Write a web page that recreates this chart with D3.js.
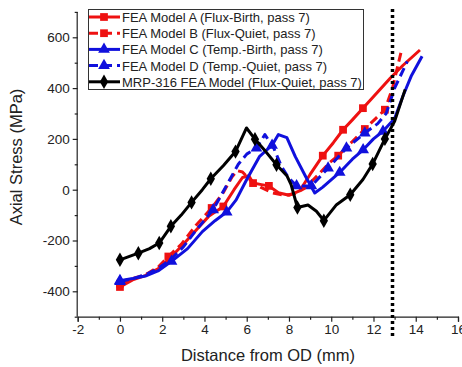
<!DOCTYPE html>
<html lang="en">
<head>
<meta charset="UTF-8">
<title>Axial Stress vs Distance from OD</title>
<script src="https://d3js.org/d3.v7.min.js"></script>
<style>
  body { margin: 0; background: #fff; }
  svg { display: block; }
  text { font-family: "Liberation Sans", Arial, sans-serif; fill: #222; }
</style>
</head>
<body>
<svg id="chart" width="462" height="367"></svg>
<script>
// [x (mm), stress (MPa), marker?]
const modelA = [[0,-383,1],[0.6,-355],[1.2,-338],[1.8,-312],[2.37,-269,1],[3.0,-215],[3.6,-160],[4.2,-105],[4.89,-66,1],[5.4,0],[5.8,48],[6.1,55],[6.3,26,1],[6.7,20],[7.05,15,1],[7.5,-12],[8.0,-22],[8.5,-5],[9.0,60],[9.6,134,1],[10.1,185],[10.56,236,1],[11.0,275],[11.5,321,1],[12.2,385],[12.8,440],[13.4,490],[14.2,550]];
const modelB = [[0,-370,1],[0.6,-350],[1.2,-335],[1.8,-305],[2.29,-263,1],[2.9,-215],[3.6,-140],[4.34,-72,1],[4.9,-10],[5.3,50],[5.55,75],[5.8,70],[6.2,35],[6.7,8],[7.2,-12],[7.8,-22],[8.3,-15],[8.75,6],[9.4,60],[9.9,105],[10.33,134,1],[11.0,190],[11.59,239,1],[12.1,280],[12.54,315,1],[12.9,400],[13.3,540]];
const modelC = [[0,-358,1],[0.6,-350],[1.2,-340],[1.8,-320],[2.44,-282,1],[3.2,-232],[3.9,-165],[4.5,-122],[5.05,-88,1],[5.5,-40],[6.0,40],[6.6,130],[7.2,175,1],[7.5,217],[7.9,205],[8.3,130],[8.8,50],[9.22,-13],[9.6,10],[10.4,68,1],[11.0,120],[11.51,157,1],[12.0,200],[12.45,230,1],[13.0,280],[13.4,370],[13.8,450],[14.3,525]];
const modelD = [[0,-362,1],[0.6,-350],[1.2,-335],[1.8,-310],[2.4,-275],[3.0,-225],[3.6,-160],[4.41,-79,1],[5.0,10],[5.6,100],[6.0,140],[6.46,164,1],[6.86,217],[7.3,160],[7.64,92],[8.0,45],[8.36,15,1],[9.06,15,1],[9.85,85,1],[10.72,164,1],[11.59,223,1],[12.2,260],[12.6,300],[13.0,400],[13.6,505]];
const modelMRP = [[0,-276,1],[0.87,-250,1],[1.4,-232],[1.86,-210,1],[2.41,-144,1],[2.9,-100],[3.39,-50,1],[3.9,0],[4.3,43,1],[4.9,95],[5.47,150,1],[5.99,243],[6.39,199,1],[6.9,150],[7.41,98,1],[7.9,55],[8.1,20],[8.4,-70,1],[8.9,-60],[9.3,-85],[9.65,-122,1],[10.25,-59],[10.9,-20,1],[11.5,40],[11.96,101,1],[12.54,200,1],[13.0,269],[13.5,395]];

const seriesNames = ["FEA Model A (Flux-Birth, pass 7)", "FEA Model B (Flux-Quiet, pass 7)",
  "FEA Model C (Temp.-Birth, pass 7)", "FEA Model D (Temp.-Quiet, pass 7)",
  "MRP-316 FEA Model (Flux-Quiet, pass 7)"];
const seriesData = [modelA, modelB, modelC, modelD, modelMRP];
const seriesColors = ["#ee1111", "#ee1111", "#1010dd", "#1010dd", "#000000"];
const seriesDashed = [false, true, false, true, false];
const seriesSymbols = ["square", "square", "triangle", "triangle", "diamond"];

const xTicks = [-2, 0, 2, 4, 6, 8, 10, 12, 14, 16];
const yTicks = [-400, -200, 0, 200, 400, 600];
const markerLineX = 12.9;

const svg = d3.select("#chart");
const x = d3.scaleLinear().domain([-2, 16]).range([77.7, 458]);
const y = d3.scaleLinear().domain([-500, 700]).range([316.7, 11.9]);
const plain = d => String(d);   // hyphen minus like the original

// axes
svg.append("g").attr("transform", `translate(0,${y(-500)})`)
  .call(d3.axisBottom(x).tickValues(xTicks).tickSize(5).tickPadding(3).tickFormat(plain));
svg.append("g").attr("transform", `translate(0,${y(-500)})`)
  .call(d3.axisBottom(x).tickValues(d3.range(-1, 16, 2)).tickSize(3).tickFormat(""))
  .select(".domain").remove();
const yAxis = svg.append("g").attr("transform", `translate(${x(-2)},0)`)
  .call(d3.axisLeft(y).tickValues(yTicks).tickSize(5).tickPadding(3).tickFormat(plain));
svg.append("g").attr("transform", `translate(${x(-2)},0)`)
  .call(d3.axisLeft(y).tickValues(d3.range(-500, 701, 200)).tickSize(3).tickFormat(""))
  .select(".domain").remove();
svg.selectAll(".domain, .tick line").attr("stroke", "#222").attr("stroke-width", 1.2);
svg.selectAll(".tick text").style("font-size", "13.5px")
  .style("font-family", "'Liberation Sans', Arial, sans-serif").attr("fill", "#333");
yAxis.select(".domain").attr("d", `M-0.5,${y(-500)}V${y(700)}`);

svg.append("text").attr("x", 268).attr("y", 361).attr("text-anchor", "middle")
  .style("font-size", "16.5px").text("Distance from OD (mm)");
svg.append("text").attr("transform", "translate(22,157) rotate(-90)").attr("text-anchor", "middle")
  .style("font-size", "16.5px").text("Axial Stress (MPa)");

const symbolType = { square: d3.symbolSquare, triangle: d3.symbolTriangle, diamond: d3.symbolDiamond };
const symbolSize = { square: 60, triangle: 60, diamond: 60 };

const line = d3.line().x(d => x(d[0])).y(d => y(d[1])).curve(d3.curveLinear);

seriesData.forEach((data, i) => {
  svg.append("path").datum(data)
    .attr("d", line).attr("fill", "none")
    .attr("stroke", seriesColors[i]).attr("stroke-width", 3)
    .attr("stroke-linejoin", "round")
    .attr("stroke-dasharray", seriesDashed[i] ? "9,5" : null);
  svg.selectAll(null).data(data.filter(d => d[2])).enter().append("path")
    .attr("transform", d => `translate(${x(d[0])},${y(d[1])})`)
    .attr("d", d3.symbol().type(symbolType[seriesSymbols[i]]).size(symbolSize[seriesSymbols[i]]))
    .attr("fill", seriesColors[i]);
});

// dotted vertical line
svg.append("line").attr("x1", x(markerLineX)).attr("x2", x(markerLineX))
  .attr("y1", 9).attr("y2", 337).attr("stroke", "#000").attr("stroke-width", 3.5)
  .attr("stroke-dasharray", "3,3");

// legend
const legend = svg.append("g");
legend.append("rect").attr("x", 88.5).attr("y", 9.5).attr("width", 275).attr("height", 80)
  .attr("fill", "#fff").attr("stroke", "#333").attr("stroke-width", 1);
seriesNames.forEach((name, i) => {
  const ly = 17 + i * 16.2;
  legend.append("line").attr("x1", 89).attr("x2", 120).attr("y1", ly).attr("y2", ly)
    .attr("stroke", seriesColors[i]).attr("stroke-width", 3)
    .attr("stroke-dasharray", seriesDashed[i] ? "9,5" : null);
  legend.append("path").attr("transform", `translate(104,${ly})`)
    .attr("d", d3.symbol().type(symbolType[seriesSymbols[i]]).size(symbolSize[seriesSymbols[i]]))
    .attr("fill", seriesColors[i]);
  legend.append("text").attr("x", 122).attr("y", ly + 5)
    .style("font-size", "13px").attr("fill", "#333").text(name);
});
</script>
</body>
</html>
